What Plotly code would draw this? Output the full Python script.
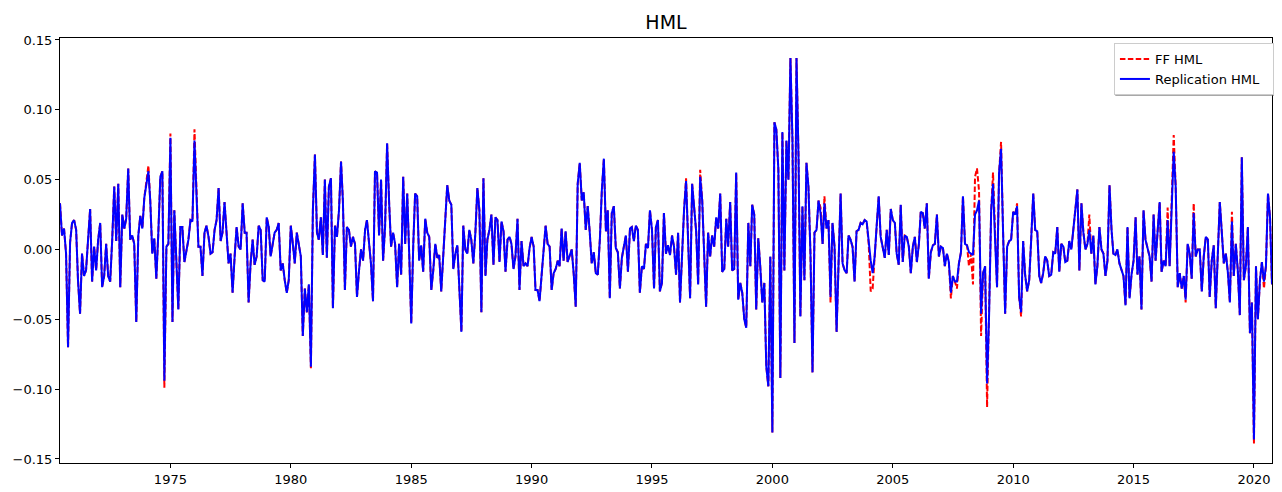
import pandas as pd
import plotly.graph_objects as go

start_month = "1970-06-01"

# Replication HML monthly values (Jun 1970 - Oct 2020)
rep_1970_1974 = [0.033, 0.010, 0.015, -0.003, -0.070, 0.005, 0.019, 0.021, 0.014, -0.022,
                 -0.046, -0.003, -0.019, -0.015, 0.007, 0.029, -0.023, 0.002, -0.015, 0.007,
                 0.019, -0.027, -0.019, 0.004, -0.019, -0.023, 0.007, 0.045, 0.006, 0.047,
                 -0.027, 0.025, 0.015, 0.022, 0.058, 0.007, 0.010, 0.004, -0.052, 0.010,
                 0.024, 0.015, 0.037, 0.047, 0.056, 0.035, -0.003, 0.008, -0.021, 0.011,
                 0.052]
rep_1974_1978 = [0.056, -0.094, 0.002, 0.004, 0.080, -0.052, 0.028, -0.005, -0.043, 0.016,
                 0.016, -0.009, 0.000, 0.007, 0.021, 0.020, 0.078, 0.040, 0.002, 0.002,
                 -0.019, 0.012, 0.017, 0.009, -0.003, -0.002, 0.014, 0.021, 0.044, 0.006,
                 0.012, 0.034, 0.014, -0.010, -0.003, -0.031, -0.005, 0.016, 0.002, 0.000,
                 0.033, 0.012, 0.012, -0.038, -0.010, 0.007, -0.011, -0.005, 0.017, 0.014,
                 -0.022]
rep_1978_1983 = [-0.023, 0.023, 0.016, -0.005, 0.004, 0.012, 0.014, 0.019, -0.015, -0.010,
                 -0.022, -0.031, -0.022, 0.017, 0.004, -0.010, 0.012, 0.004, -0.005, -0.062,
                 -0.028, -0.045, -0.025, -0.084, 0.028, 0.068, 0.012, 0.007, 0.023, -0.004,
                 0.050, -0.006, 0.045, 0.051, -0.042, 0.017, 0.009, 0.028, 0.063, 0.035,
                 -0.029, 0.016, 0.014, 0.002, 0.009, 0.004, -0.034, -0.015, 0.000, -0.008,
                 0.014]
rep_1983_1987 = [0.021, 0.007, -0.010, -0.037, 0.056, 0.055, 0.010, 0.050, -0.008, 0.016,
                 0.076, 0.033, 0.002, 0.012, 0.004, -0.027, 0.004, -0.018, 0.052, 0.004,
                 0.040, -0.003, -0.053, 0.004, 0.040, 0.038, -0.008, 0.003, -0.016, 0.022,
                 0.012, 0.009, -0.029, -0.015, 0.004, -0.006, -0.004, -0.030, -0.003, 0.016,
                 0.046, 0.035, 0.032, -0.014, -0.003, 0.003, -0.027, -0.059, 0.017, 0.000]
rep_1987_1991 = [-0.003, 0.014, 0.007, -0.010, 0.012, 0.044, 0.028, -0.045, 0.051, -0.019,
                 0.007, 0.014, 0.025, -0.011, 0.023, 0.021, -0.009, 0.020, 0.013, -0.016,
                 0.007, 0.009, 0.004, -0.014, -0.005, 0.022, -0.029, 0.006, -0.012, -0.010,
                 -0.012, 0.001, 0.009, 0.002, -0.029, -0.029, -0.037, -0.019, 0.000, 0.017,
                 0.004, 0.002, -0.029, -0.017, -0.014, -0.008, -0.012, 0.015, -0.008, 0.013,
                 -0.009]
rep_1991_1995 = [-0.005, 0.000, -0.017, -0.041, 0.047, 0.062, 0.035, 0.041, 0.014, 0.031,
                 0.012, -0.010, -0.002, -0.017, -0.018, 0.007, 0.042, 0.065, 0.013, 0.028,
                 -0.035, 0.026, 0.031, 0.001, -0.002, -0.028, -0.006, 0.002, 0.010, -0.016,
                 0.015, 0.016, 0.006, 0.017, 0.014, -0.031, -0.012, -0.014, 0.004, 0.001,
                 0.028, 0.014, -0.028, 0.016, 0.021, -0.030, -0.024, 0.026, -0.003, 0.003]
rep_1995_1999 = [-0.004, 0.010, 0.002, -0.018, 0.012, -0.038, -0.003, 0.028, 0.049, 0.004,
                 -0.035, 0.047, 0.028, 0.013, -0.025, 0.052, 0.035, -0.005, -0.041, 0.012,
                 -0.005, 0.010, 0.002, 0.023, 0.015, 0.040, -0.016, -0.014, 0.022, 0.002,
                 0.034, -0.015, -0.014, 0.055, -0.036, -0.024, -0.031, -0.050, -0.056, 0.019,
                 -0.012, 0.032, 0.025, -0.043, 0.008, -0.012, -0.038, -0.024, -0.084, -0.098,
                 -0.005]
rep_2000_2004 = [-0.131, 0.091, 0.086, 0.057, -0.092, 0.084, -0.015, 0.078, 0.050, 0.137,
                 0.078, -0.067, 0.137, 0.066, -0.048, 0.031, -0.022, 0.062, 0.045, -0.003,
                 -0.088, 0.012, 0.014, 0.035, 0.026, 0.004, 0.033, 0.015, 0.021, -0.034,
                 0.019, 0.002, -0.059, -0.003, 0.040, -0.010, -0.015, -0.017, 0.010, 0.007,
                 0.002, -0.023, 0.013, 0.014, 0.019, 0.018, 0.021, 0.020, 0.004, -0.008,
                 -0.017]
rep_2004_2008 = [-0.005, 0.017, 0.038, 0.009, 0.002, -0.006, 0.014, -0.004, 0.029, 0.021,
                 0.019, -0.003, -0.011, 0.032, -0.009, 0.010, 0.009, 0.002, -0.017, 0.002,
                 0.009, -0.009, 0.004, 0.027, 0.026, 0.015, 0.033, -0.021, -0.002, 0.003,
                 0.004, 0.025, -0.005, 0.002, 0.001, -0.012, -0.003, -0.009, -0.031, -0.019,
                 -0.023, -0.023, -0.010, -0.002, 0.038, 0.004, 0.003, -0.002, -0.003, -0.004,
                 0.025]
rep_2008_2012 = [0.028, 0.035, -0.046, -0.017, -0.012, -0.096, -0.046, 0.028, 0.047, 0.007,
                 -0.027, 0.055, 0.072, 0.012, -0.046, 0.002, 0.006, 0.007, 0.027, 0.025,
                 0.031, -0.034, -0.045, 0.006, -0.018, -0.030, -0.022, 0.007, 0.040, 0.014,
                 0.013, -0.019, -0.024, -0.017, -0.005, -0.008, -0.019, -0.018, -0.002, -0.003,
                 0.016, -0.016, 0.004, 0.002, -0.009, -0.008, 0.006, 0.000, 0.013, 0.031,
                 0.043]
rep_2012_2016 = [-0.015, 0.033, 0.012, 0.000, 0.004, 0.014, -0.003, 0.010, -0.025, -0.012,
                 0.016, 0.000, -0.003, -0.019, -0.008, 0.046, 0.014, -0.003, -0.004, 0.000,
                 -0.010, -0.015, -0.019, -0.040, 0.016, -0.035, -0.018, -0.008, 0.023, -0.018,
                 -0.005, -0.043, 0.028, 0.007, 0.001, -0.005, -0.023, 0.025, -0.008, 0.016,
                 0.034, -0.016, -0.008, -0.012, 0.021, -0.012, 0.028, 0.070, 0.045, -0.027]
rep_2017_2020 = [-0.017, -0.028, -0.019, -0.036, 0.004, -0.003, -0.021, 0.026, -0.005, 0.000,
                 0.000, -0.030, -0.005, 0.009, 0.007, -0.034, -0.008, 0.003, -0.042, -0.005,
                 0.034, 0.012, -0.010, -0.003, -0.016, -0.038, 0.020, -0.019, 0.004, -0.015,
                 -0.047, 0.066, -0.022, -0.012, 0.016, -0.060, -0.038, -0.136, -0.012, -0.050,
                 -0.022, -0.009, -0.023, -0.012, 0.040, 0.023, -0.025]

replication_hml = (rep_1970_1974 + rep_1974_1978 + rep_1978_1983 + rep_1983_1987
                   + rep_1987_1991 + rep_1991_1995 + rep_1995_1999 + rep_2000_2004
                   + rep_2004_2008 + rep_2008_2012 + rep_2012_2016 + rep_2017_2020)

# FF HML: months where the dashed red line visibly differs from the replication
ff_hml_differences = {44: 0.060, 52: -0.099, 55: 0.083, 67: 0.086, 125: -0.085,
                      312: 0.051, 319: 0.057, 379: 0.030, 381: 0.038, 384: -0.038,
                      404: -0.030, 405: -0.028, 444: -0.035, 447: -0.028, 453: -0.012,
                      455: -0.025, 456: 0.052, 457: 0.058, 458: 0.042, 459: -0.062,
                      462: -0.113, 465: 0.055, 469: 0.077, 477: 0.033, 479: -0.048,
                      513: 0.025, 552: 0.030, 555: 0.082, 561: -0.038, 565: 0.033,
                      584: 0.027, 595: -0.139, 600: -0.028}
ff_hml = [ff_hml_differences.get(i, v) for i, v in enumerate(replication_hml)]

dates = pd.date_range(start_month, periods=len(replication_hml), freq="MS")

y_ticks = [-0.15, -0.10, -0.05, 0.00, 0.05, 0.10, 0.15]

fig = go.Figure()
fig.add_trace(go.Scatter(x=dates, y=ff_hml, mode="lines", name="FF HML",
                         line=dict(color="red", width=2, dash="5.5px,2.4px")))
fig.add_trace(go.Scatter(x=dates, y=replication_hml, mode="lines",
                         name="Replication HML\u00a0\u00a0",
                         line=dict(color="blue", width=2)))

axis_style = dict(showline=True, mirror=True, linecolor="black", linewidth=1,
                  ticks="outside", ticklen=4, tickcolor="black", tickwidth=1,
                  showgrid=False, zeroline=False, automargin=False)

# legend shadow (matplotlib-style), offset to the lower right of the legend box
fig.add_shape(type="rect", xref="paper", yref="paper",
              x0=0.8707, x1=1.0016, y0=0.8635, y1=0.9765,
              fillcolor="rgba(110,110,110,0.6)", line=dict(width=0), layer="above")

fig.update_layout(
    width=1282, height=492,
    margin=dict(l=60, r=8, t=38, b=29),
    paper_bgcolor="white", plot_bgcolor="white",
    font=dict(family="DejaVu Sans", size=13, color="black"),
    title=dict(text="HML", x=0.5, xref="paper", xanchor="center",
               y=1 - 22 / 492, yref="container", yanchor="middle",
               font=dict(size=19, color="black")),
    legend=dict(x=1.0016, y=0.988, xanchor="right", yanchor="top",
                bgcolor="white", bordercolor="#cccccc", borderwidth=1,
                font=dict(size=13), tracegroupgap=0),
    xaxis=dict(type="date", range=[dates[0], dates[-1]], dtick="M60",
               tick0="1975-01-01", tickformat="%Y", **axis_style),
    yaxis=dict(range=[-0.1529, 0.1514], tickvals=y_ticks, tickformat=".2f",
               **axis_style),
)

fig.write_html("out.html", config={"displayModeBar": False},
               post_script="document.body.style.margin='0';document.body.style.padding='0';")
